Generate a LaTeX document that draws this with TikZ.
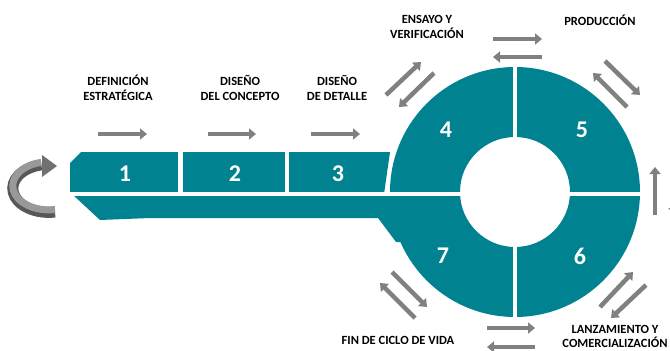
\documentclass[tikz,border=0pt]{standalone}
\usepackage{fontspec}
\setmainfont{Carlito}
\usetikzlibrary{arrows.meta}
\definecolor{tealc}{RGB}{0,130,145}
\definecolor{arrgray}{RGB}{128,128,128}
\tikzset{
  garrow/.style={draw=arrgray, line width=4.5pt, -{Triangle[length=7pt,width=11pt]}},
  numlab/.style={text=white, font=\fontsize{24}{24}\selectfont\bfseries, inner sep=0pt},
  stagelab/.style={font=\fontsize{12.5}{15.5}\selectfont\bfseries, align=center, inner sep=0pt},
  gapline/.style={draw=white, line width=4pt},
}
\begin{document}
\begin{tikzpicture}[x=1pt,y=-1pt]
\useasboundingbox (0,0) rectangle (670,351);
\clip (0,0) rectangle (670,351);
% bar
\fill[tealc] (81,152) -- (390,152) -- (384,194) -- (70,194) -- (70,163) -- cycle;
\fill[tealc] (72,194) -- (420,194) -- (420,242) -- (396,242) -- (378,218) -- (150,218) -- (100,220) -- cycle;
% ring
\fill[tealc, even odd rule] (515,192) circle (125) (515,192) circle (55);
% white gaps
\draw[gapline] (65,194) -- (645,194);
\draw[gapline, line width=5pt] (180,148) -- (180,194);
\draw[gapline] (287,148) -- (287,194);
\draw[gapline] (515,60) -- (515,325);
% numbers
\node[numlab] (n1) at (125,174) {1};
\node[numlab] (n2) at (235,174) {2};
\node[numlab] (n3) at (338,174) {3};
\node[numlab] (n4) at (446,130) {4};
\node[numlab] (n5) at (582,130) {5};
\node[numlab] (n6) at (580,256) {6};
\node[numlab] (n7) at (443,256) {7};
% labels
\node[stagelab] (ldef) at (118,88) {DEFINICIÓN\\ESTRATÉGICA};
\node[stagelab] (lcon) at (240,88) {DISEÑO\\DEL CONCEPTO};
\node[stagelab] (ldet) at (337,88) {DISEÑO\\DE DETALLE};
\node[stagelab] (lens) at (427,27) {ENSAYO Y\\VERIFICACIÓN};
\node[stagelab] (lpro) at (600,20) {PRODUCCIÓN};
\node[stagelab] (lfin) at (398,340) {FIN DE CICLO DE VIDA};
\node[stagelab, font=\fontsize{12.5}{14}\selectfont\bfseries] (llan) at (615,336) {LANZAMIENTO Y\\COMERCIALIZACIÓN};
% arrow end points
\coordinate (h1a) at (98,134);  \coordinate (h1b) at (147,134);
\coordinate (h2a) at (208,134); \coordinate (h2b) at (256,134);
\coordinate (h3a) at (311,134); \coordinate (h3b) at (360,134);
\coordinate (t1a) at (493,39);  \coordinate (t1b) at (542,39);
\coordinate (t2a) at (542,57);  \coordinate (t2b) at (493,57);
\coordinate (a1a) at (386,95);  \coordinate (a1b) at (421,62);
\coordinate (a2a) at (434,73);  \coordinate (a2b) at (399,107);
\coordinate (b1a) at (605,61);  \coordinate (b1b) at (640,95);
\coordinate (b2a) at (627,107); \coordinate (b2b) at (593,73);
\coordinate (r1a) at (655,215); \coordinate (r1b) at (655,167);
\coordinate (r2a) at (674,167); \coordinate (r2b) at (674,215);
\coordinate (c1a) at (600,307); \coordinate (c1b) at (633,272);
\coordinate (c2a) at (646,285); \coordinate (c2b) at (611,318);
\coordinate (d1a) at (392,272); \coordinate (d1b) at (427,307);
\coordinate (d2a) at (415,318); \coordinate (d2b) at (380,283);
\coordinate (e1a) at (487,328); \coordinate (e1b) at (535,328);
\coordinate (e2a) at (535,347); \coordinate (e2b) at (487,347);
\foreach \p in {h1,h2,h3,t1,t2,a1,a2,b1,b2,r1,r2,c1,c2,d1,d2,e1,e2}
  \draw[garrow] (\p a) -- (\p b);
% curved return arrow
\coordinate (cra) at (55,212);
\coordinate (crb) at (55,209.5);
\draw[draw=gray!45!black!85, line width=11pt] (cra) arc[start angle=80, end angle=258, x radius=36, y radius=24];
\draw[draw=gray!80, line width=7pt] (crb) arc[start angle=80, end angle=258, x radius=36, y radius=24];
\fill[gray!60!black!80] (42,155) -- (57,166) -- (42,177) -- cycle;
\end{tikzpicture}
\end{document}
